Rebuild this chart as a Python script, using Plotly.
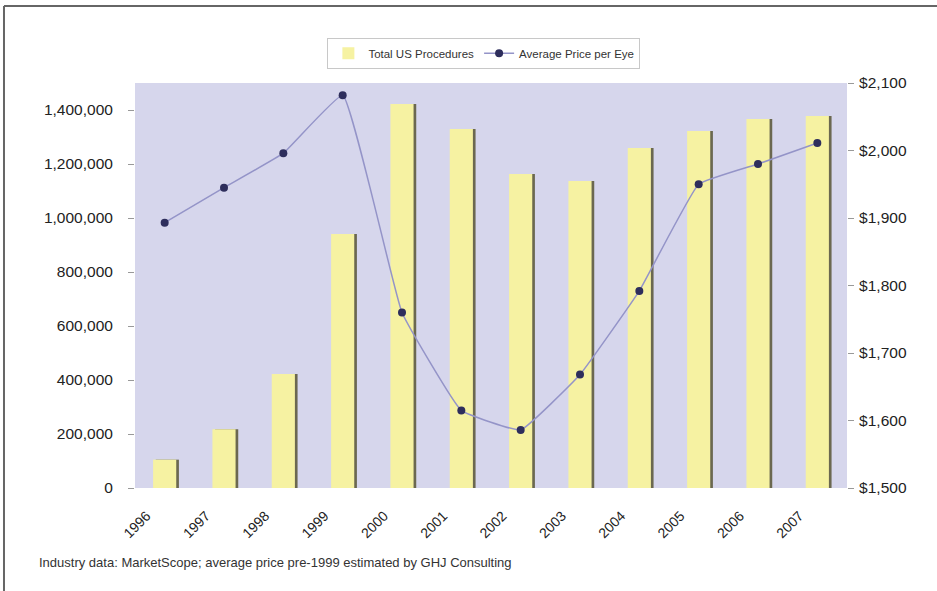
import plotly.graph_objects as go

years = ["1996", "1997", "1998", "1999", "2000", "2001", "2002", "2003", "2004", "2005", "2006", "2007"]
procedures = [105000, 218000, 422000, 941000, 1422000, 1330000, 1163000, 1137000, 1259000, 1322000, 1367000, 1378000]
avg_price = [1893, 1945, 1996, 2082, 1760, 1615, 1586, 1668, 1792, 1950, 1980, 2011]

left_ticks = [0, 200000, 400000, 600000, 800000, 1000000, 1200000, 1400000]
right_ticks = [1500, 1600, 1700, 1800, 1900, 2000, 2100]

FONT = "Liberation Sans, Arial, sans-serif"

fig = go.Figure()

# dark edge (shadow) behind each bar
fig.add_trace(go.Bar(
    x=years, y=procedures, width=0.39, offset=-0.15,
    marker=dict(color="#6b6850", line=dict(width=0)),
    showlegend=False, hoverinfo="skip", yaxis="y",
))
fig.add_trace(go.Bar(
    x=years, y=procedures, width=0.39, offset=-0.195,
    name="Total US Procedures",
    marker=dict(color="#f6f2a2", line=dict(width=0)),
    yaxis="y",
))
fig.add_trace(go.Scatter(
    x=years, y=avg_price, name="Average Price per Eye",
    mode="lines+markers", yaxis="y2",
    line=dict(color="#9494c8", width=1.5, shape="spline", smoothing=0.3),
    marker=dict(color="#2e2e5c", size=8, symbol="circle"),
))

fig.update_layout(
    width=937, height=591,
    margin=dict(l=135, r=90, t=83, b=103, autoexpand=False),
    paper_bgcolor="white",
    plot_bgcolor="#d6d6ec",
    barmode="overlay",
    font=dict(family=FONT, color="#222222"),
    showlegend=True,
    legend=dict(
        orientation="h", x=0.49, xanchor="center", y=1.112, yanchor="top",
        bgcolor="white", bordercolor="#c8c8c8", borderwidth=1,
        font=dict(size=11.5, color="#333333"),
        itemwidth=30, tracegroupgap=0,
    ),
    xaxis=dict(
        type="category", tickangle=-45,
        tickfont=dict(size=14, color="#222222"),
        showgrid=False, zeroline=False, showline=False,
        ticks="", range=[-0.5, 11.5],
        automargin=False, ticklabelstandoff=16, ticklabelshift=-18,
    ),
    yaxis=dict(
        range=[0, 1500000], tickvals=left_ticks, tickformat=",",
        tickfont=dict(size=15.5, color="#222222"),
        showgrid=False, zeroline=False, showline=False,
        ticks="outside", ticklen=6, tickcolor="#999999",
        ticklabelstandoff=12, automargin=False,
    ),
    yaxis2=dict(
        range=[1500, 2100], tickvals=right_ticks, tickformat="$,.0f",
        overlaying="y", side="right",
        tickfont=dict(size=15.5, color="#222222"),
        showgrid=False, zeroline=False, showline=False,
        ticks="outside", ticklen=6, tickcolor="#999999",
        ticklabelstandoff=2, automargin=False,
    ),
    shapes=[
        dict(type="line", xref="paper", yref="paper", x0=-0.184, x1=1.2, y0=1.19, y1=1.19,
             line=dict(color="#666666", width=2)),
        dict(type="line", xref="paper", yref="paper", x0=-0.184, x1=-0.184, y0=1.19, y1=-0.3,
             line=dict(color="#666666", width=2)),
    ],
    annotations=[
        dict(text="Industry data: MarketScope; average price pre-1999 estimated by GHJ Consulting",
             xref="paper", yref="paper", x=-0.137, y=-0.185, xanchor="left", yanchor="middle",
             showarrow=False, font=dict(size=13, color="#333333")),
    ],
)

fig.write_html("out.html", config={"displayModeBar": False},
               post_script="document.body.style.margin='0';")
